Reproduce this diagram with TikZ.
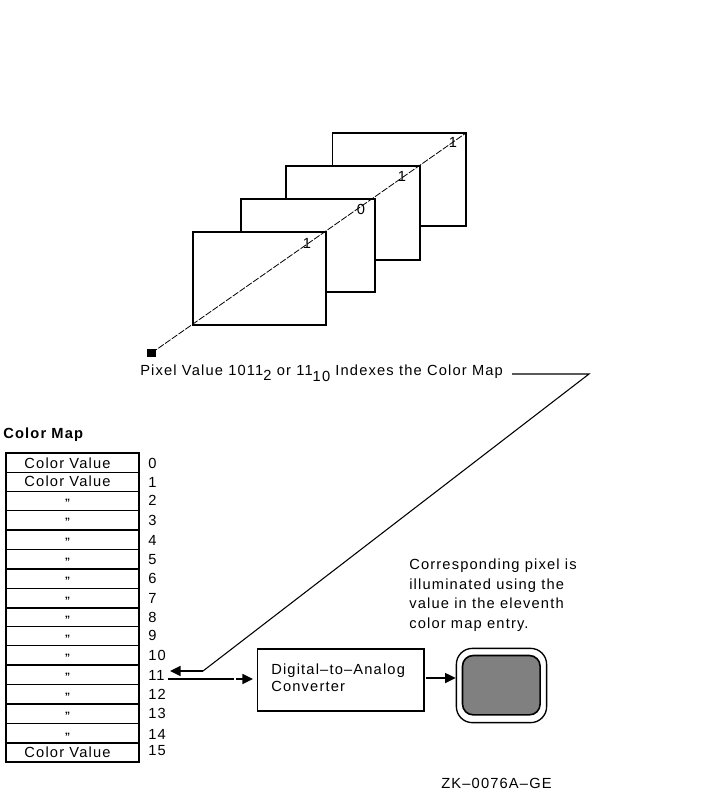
\documentclass[tikz,border=0pt]{standalone}
\usepackage{fontspec}
\setmainfont{Liberation Sans}[LetterSpace=8]
\usetikzlibrary{arrows.meta}
\tikzset{
  px/.style={x=0.75pt,y=-0.75pt},
  frameline/.style={draw=black,line width=1.2pt,fill=white},
  leader/.style={draw=black,line width=0.8pt},
  conn/.style={draw=black,line width=1.2pt},
  tipped/.style={conn,-{Triangle[length=8pt,width=7.5pt]}},
  scan/.style={draw=black,line width=0.6pt,dash pattern=on 5pt off 1.2pt},
  lbl/.style={inner sep=0pt,anchor=base west,font=\fontsize{11}{12}\selectfont},
  ctr/.style={inner sep=0pt,anchor=base,font=\fontsize{11}{12}\selectfont},
  rowbox/.style={frameline,inner sep=0pt,anchor=north west,minimum width=100pt},
  ditto/.style={inner sep=0pt,anchor=base,font=\fontsize{8}{9}\selectfont\bfseries},
}
\begin{document}
\begin{tikzpicture}[px]
\useasboundingbox (0,0) rectangle (705,794);
% frames
\draw[frameline] (332.3,133) rectangle (466,226);
\draw[frameline] (286,166) rectangle (420,260);
\draw[frameline] (241,199) rectangle (375,292);
\draw[frameline] (193,232) rectangle (326,325);
\node[inner sep=0pt,fill=black,minimum width=7pt,minimum height=5.5pt] (pxl) at (151.5,353) {};
\coordinate (scanend) at (466,133);
\draw[scan] (pxl.center) -- (scanend);
\node[ctr] (b3) at (307,248) {1};
\node[ctr] (b2) at (361,214) {0};
\node[ctr] (b1) at (402,181) {1};
\node[ctr] (b0) at (453,147) {1};
\node[lbl] (pv) at (140,375) {Pixel Value 1011\raisebox{-4pt}{2} or 11\raisebox{-5pt}{10} Indexes the Color Map};
% color map
\node[lbl] (cm) at (3,438.5) {\textbf{Color Map}};
\foreach \i/\t/\h/\ly in {0/452/19.7/463,1/471.7/19/482,2/490.7/19/500,3/509.7/19.3/520,4/529/19.7/540,5/548.7/19.3/559,6/568/19.7/578,7/587.7/19.6/598,8/607.3/18.4/617,9/625.7/19/635,10/644.7/19.3/655,11/664/19.7/675,12/683.7/19.3/694,13/703/19.7/713,14/722.7/19.3/734,15/742/19/750}{
  \node[rowbox,minimum height=\h*0.75pt] (r\i) at (5,\t) {};
  \node[lbl] (n\i) at (148,\ly+5) {\i};
}
\node[ctr] (v0) at (67.5,468) {Color Value};
\node[ctr] (v1) at (67.5,486.5) {Color Value};
\node[ctr] (v15) at (67.5,757) {Color Value};
\foreach \i/\y in {2/506,3/525.5,4/545,5/565,6/584,7/604,8/623,9/642,10/661,11/680,12/700,13/719,14/740}{
  \node[ditto] (d\i) at (67.5,\y) {"};
}
% connectors
\coordinate (lineA) at (512,374);
\coordinate (lineB) at (589,374);
\coordinate (lineC) at (203,671);
\coordinate (tipA) at (170,671);
\draw[leader] (lineA) -- (lineB) -- (lineC);
\draw[tipped] (lineC) -- (tipA);
% DAC
\node[frameline,inner sep=0pt,anchor=north west,minimum width=125pt,minimum height=46.5pt] (dac) at (256.7,648) {};
\node[lbl] (dac1) at (271,674) {Digital–to–Analog};
\node[lbl] (dac2) at (271,691.5) {Converter};
\coordinate (outS) at (168,679);
\coordinate (outM) at (234,679);
\coordinate (outN) at (236,679);
\coordinate (dacIn) at (253,679);
\draw[conn] (outS) -- (outM);
\draw[tipped] (outN) -- (dacIn);
% monitor
\node[draw=black,line width=1pt,fill=white,rounded corners=12pt,inner sep=0pt,anchor=north west,minimum width=67.7pt,minimum height=55.7pt] (mon) at (455.7,647.7) {};
\node[draw=black,line width=1.2pt,fill=black!50,rounded corners=8pt,inner sep=0pt,anchor=north west,minimum width=58.2pt,minimum height=44.5pt] (scr) at (461.7,654.7) {};
\coordinate (dacOut) at (426,678);
\draw[tipped] (dacOut) -- (mon.west |- dacOut);
% notes
\node[lbl] (c1) at (409,569) {Corresponding pixel is};
\node[lbl] (c2) at (409,589) {illuminated using the};
\node[lbl] (c3) at (409,608.5) {value in the eleventh};
\node[lbl] (c4) at (409,628) {color map entry.};
\node[lbl] (zk) at (441,788.5) {ZK–0076A–GE};
\end{tikzpicture}
\end{document}
